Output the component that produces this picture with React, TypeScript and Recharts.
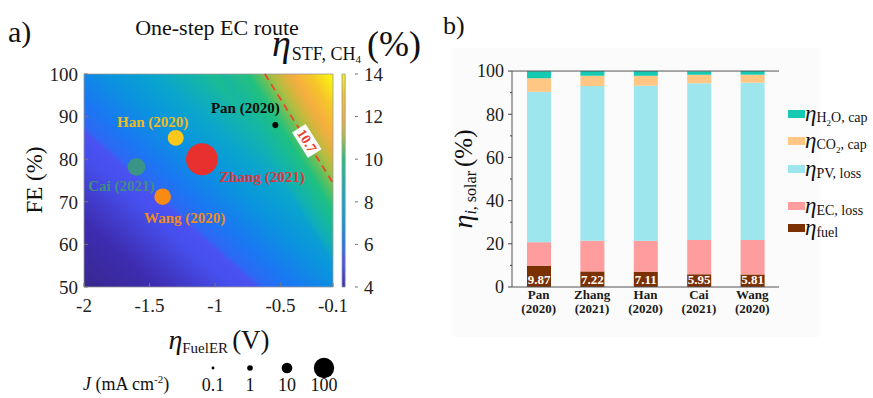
import React from 'react';
import {
  ScatterChart, Scatter, XAxis, YAxis, ReferenceArea, ReferenceLine, ReferenceDot,
  ComposedChart, BarChart, Bar, LabelList, Legend, Cell,
} from 'recharts';

const serif = '"Liberation Serif", "Times New Roman", Times, serif';

// ---- panel a: one-step EC route ----
const studies = ['Pan (2020)', 'Zhang (2021)', 'Han (2020)', 'Cai (2021)', 'Wang (2020)'];
const fuelErOverpotential = [-0.54, -1.1, -1.3, -1.6, -1.4]; // V
const faradaicEfficiency = [88, 80, 85, 78.2, 71.2]; // %
const currentDensity = [1.3, 500, 42, 60, 48]; // mA cm-2
const etaTicks = [-2, -1.5, -1, -0.5, -0.1];
const feTicks = [50, 60, 70, 80, 90, 100];
const stfTicks = [4, 6, 8, 10, 12, 14];
const contourLevel = 10.7;
const contourEnds = [{ x: -0.62, y: 100 }, { x: -0.1, y: 74.4 }];
const contourTagAt = { eta: -0.3, fe: 84.3 };
const jLegendValues = [0.1, 1, 10, 100];

// ---- panel b: solar energy split ----
const sources = ['Pan (2020)', 'Zhang (2021)', 'Han (2020)', 'Cai (2021)', 'Wang (2020)'];
const fuelShare = [9.87, 7.22, 7.11, 5.95, 5.81];
const ecLoss = [10.9, 14.2, 14.3, 15.8, 16.0];
const pvLoss = [69.6, 71.6, 71.8, 72.6, 72.8];
const co2Capture = [6.3, 4.8, 4.6, 3.9, 3.7];
const h2oCapture = [3.3, 2.2, 2.2, 1.7, 1.7];
const shareTicks = [0, 10, 20, 30, 40, 50, 60, 70, 80, 90, 100];

// styles
const pointColors = ['#050505', '#E8302F', '#F9C81B', '#3B9587', '#F98B12'];
const labelColors = ['#0a0a0a', '#E0383A', '#EDBB1E', '#3F8E80', '#F08A22'];
const labelOffsets = [[-30, -17], [60, 18], [-23, -16], [-15, 19], [22, 21]];
// colour map (value -> colour) and where each value sits along the heat-map gradients
const cmapColors = ['#3E2CB0', '#4650EE', '#4A52F2', '#2E68F4', '#1A78F2', '#0A94DE', '#0AA6CC', '#14B4AA',
  '#1EC080', '#5EC05E', '#A8BE44', '#D8B43C', '#F4AE40', '#F6C42A', '#F8F012'];
const cmapLevels = [4, 5, 5.4, 5.6, 6, 7, 8, 9, 10, 10.5, 11, 11.5, 12, 13, 14];
const heatOffsets = [0.151, 0.305, 0.355, 0.37, 0.431, 0.537, 0.629, 0.709, 0.777, 0.808, 0.837, 0.866, 0.893, 0.938, 0.985];
const barColors = { fuel: '#7A3000', ec: '#FF9C9E', pv: '#9EE6EE', co2: '#FFC684', h2o: '#14CAB2' };
const legendOrder = ['h2o', 'co2', 'pv', 'ec', 'fuel'];
const legendRowTops = [14, 41, 69, 106, 128];

const bubbleRadius = (j: number) => 2.8 * Math.pow(j, 0.28);

const points = studies.map((name, i) => ({
  name, eta: fuelErOverpotential[i], fe: faradaicEfficiency[i], J: currentDensity[i],
}));
const jLegend = jLegendValues.map((J) => ({ label: String(J), row: 0, J }));
const bars = sources.map((name, i) => ({
  name, fuel: fuelShare[i], ec: ecLoss[i], pv: pvLoss[i], co2: co2Capture[i], h2o: h2oCapture[i],
}));

const Bubble = (props: any) => {
  const { cx, cy, payload, fill } = props;
  const i = studies.indexOf(payload.name);
  const [dx, dy] = labelOffsets[i];
  return (
    <g>
      <circle cx={cx} cy={cy} r={bubbleRadius(payload.J)} fill={fill} />
      <text x={cx + dx} y={cy + dy} textAnchor="middle" dominantBaseline="central"
        fontFamily={serif} fontWeight="bold" fontSize={15} fill={labelColors[i]}>{payload.name}</text>
    </g>
  );
};

const LegendDot = (props: any) => (
  <circle cx={props.cx} cy={props.cy} r={bubbleRadius(props.payload.J)} fill="#000" />
);

const ContourTag = (props: any) => (
  <g transform={`translate(${props.cx},${props.cy}) rotate(58)`}>
    <rect x={-15} y={-8} width={30} height={16} fill="#fff" />
    <text textAnchor="middle" dominantBaseline="central" fontFamily={serif} fontWeight="bold"
      fontSize={14} fill="#E8402E">{contourLevel}</text>
  </g>
);

const StudyTick = (props: any) => {
  const { x, y, payload } = props;
  const [who, year] = String(payload.value).split(' ');
  return (
    <g>
      <text x={x} y={y + 12} textAnchor="middle" fontFamily={serif} fontWeight="bold" fontSize={13} fill="#1a1a1a">{who}</text>
      <text x={x} y={y + 25.5} textAnchor="middle" fontFamily={serif} fontWeight="bold" fontSize={13} fill="#1a1a1a">{year}</text>
    </g>
  );
};

const ShareTick = (props: any) => {
  const { x, y, payload } = props;
  const major = payload.value % 20 === 0;
  return (
    <g>
      <line x1={x + 8 - (major ? 4 : 2)} x2={x + 8} y1={y} y2={y} stroke="#444" />
      {major && (
        <text x={x} y={y} dy="0.35em" textAnchor="end" fontFamily={serif} fontSize={18} fill="#1a1a1a">
          {payload.value}
        </text>
      )}
    </g>
  );
};

const legendLabel: Record<string, React.ReactNode> = {
  h2o: <>H<sub style={{ fontSize: 9 }}>2</sub>O, cap</>,
  co2: <>CO<sub style={{ fontSize: 9 }}>2</sub>, cap</>,
  pv: <>PV, loss</>,
  ec: <>EC, loss</>,
  fuel: <>fuel</>,
};

const ShareLegend = (props: any) => {
  const items = [...(props.payload || [])].sort(
    (a: any, b: any) => legendOrder.indexOf(a.dataKey) - legendOrder.indexOf(b.dataKey),
  );
  return (
    <div style={{ position: 'relative', width: 90, height: 140, fontFamily: serif, color: '#111' }}>
      {items.map((it: any, i: number) => (
        <div key={it.dataKey} style={{ position: 'absolute', left: 0, top: legendRowTops[i] - 10, height: 20, display: 'flex', alignItems: 'center', whiteSpace: 'nowrap' }}>
          <span style={{ width: 17, height: 8, background: it.color, display: 'inline-block' }} />
          <span style={{ fontStyle: 'italic', fontSize: 23, lineHeight: '20px' }}>η</span>
          <span style={{ fontSize: 14, position: 'relative', top: 5 }}>{legendLabel[it.dataKey]}</span>
        </div>
      ))}
    </div>
  );
};

const abs = (left: number, top: number, extra: React.CSSProperties = {}): React.CSSProperties => ({
  position: 'absolute', left, top, fontFamily: serif, color: '#111', whiteSpace: 'nowrap', lineHeight: 1, ...extra,
});

export default function App() {
  return (
    <div style={{ position: 'absolute', left: 0, top: 0, width: 873, height: 398, background: '#fff', overflow: 'hidden' }}>
      <svg width={0} height={0} style={{ position: 'absolute' }}>
        <defs>
          {/* shallow iso-lines: lower-left part of the map */}
          <linearGradient id="heatBase" x1="0" y1="1" x2="1.025" y2="0.026">
            <stop offset={0} stopColor="#37288F" />
            {heatOffsets.map((o, i) => <stop key={o} offset={o} stopColor={cmapColors[i]} />)}
          </linearGradient>
          {/* steep iso-lines: upper-right part, parallel to the 10.7 contour */}
          <linearGradient id="heatTop" x1="0" y1="1" x2="1.193" y2="0.362">
            <stop offset={0.69} stopColor={cmapColors[7]} stopOpacity={0} />
            {heatOffsets.map((o, i) => (o > 0.7 ? (
              <stop key={o} offset={o} stopColor={cmapColors[i]} stopOpacity={o < 0.76 ? 0.6 : 1} />
            ) : null))}
          </linearGradient>
          <linearGradient id="cbar" x1="0" y1="1" x2="0" y2="0">
            {cmapLevels.map((v, i) => <stop key={v} offset={(v - 4) / 10} stopColor={cmapColors[i]} />)}
          </linearGradient>
        </defs>
      </svg>

      {/* panel b background */}
      <div style={{ position: 'absolute', left: 453, top: 48, width: 367, height: 289, background: '#fbfbfb' }} />

      {/* ---------- panel a ---------- */}
      <div style={abs(8, 17, { fontSize: 30 })}>a)</div>
      <div style={abs(0, 17, { width: 434, textAlign: 'center', fontSize: 22 })}>One-step EC route</div>
      <div style={abs(272, 24, { display: 'flex', alignItems: 'baseline' })}>
        <span style={{ fontStyle: 'italic', fontSize: 38 }}>η</span>
        <span style={{ fontSize: 18, position: 'relative', top: 4, marginLeft: 1 }}>STF, CH<span style={{ fontSize: 11, position: 'relative', top: 3 }}>4</span></span>
        <span style={{ fontSize: 36, marginLeft: 6 }}>(%)</span>
      </div>
      <div style={abs(34, 180, { fontSize: 23, transform: 'translate(-50%, -50%) rotate(-90deg)' })}>FE (%)</div>
      <div style={abs(219, 340, { transform: 'translate(-50%, -50%)', display: 'flex', alignItems: 'baseline' })}>
        <span style={{ fontStyle: 'italic', fontSize: 28 }}>η</span>
        <span style={{ fontSize: 15, position: 'relative', top: 4 }}>FuelER</span>
        <span style={{ fontSize: 27, marginLeft: 4 }}>(V)</span>
      </div>
      <div style={abs(83, 375, { fontSize: 18 })}>
        <i>J</i> (mA cm<span style={{ fontSize: 11, position: 'relative', top: -7 }}>-2</span>)
      </div>

      <div style={{ position: 'absolute', left: 0, top: 0 }}>
        <ScatterChart width={440} height={330} margin={{ top: 74, right: 107, bottom: 18, left: 44 }}>
          <XAxis type="number" dataKey="eta" domain={[-2, -0.1]} ticks={etaTicks} allowDataOverflow
            height={25} tickSize={-4} tickMargin={16} axisLine={false} stroke="#777"
            tick={{ fontFamily: serif, fontSize: 19, fill: '#222' }} />
          <XAxis xAxisId="top" orientation="top" type="number" domain={[-2, -0.1]} ticks={etaTicks}
            allowDataOverflow height={0} tickSize={-4} tick={false} axisLine={false} stroke="#777" />
          <YAxis type="number" dataKey="fe" domain={[50, 100]} ticks={feTicks} allowDataOverflow
            width={40} tickSize={-4} tickMargin={10} axisLine={false} stroke="#777"
            tick={{ fontFamily: serif, fontSize: 19, fill: '#222' }} />
          <YAxis yAxisId="right" orientation="right" type="number" domain={[50, 100]} ticks={feTicks}
            allowDataOverflow width={0} tickSize={-4} tick={false} axisLine={false} stroke="#777" />
          <ReferenceArea x1={-2} x2={-0.1} y1={50} y2={100} fill="url(#heatBase)" fillOpacity={1} stroke="none" />
          <ReferenceArea x1={-2} x2={-0.1} y1={50} y2={100} fill="url(#heatTop)" fillOpacity={1} stroke="#9a9a9a" strokeWidth={0.8} />
          <ReferenceLine segment={contourEnds} stroke="#EE4428" strokeWidth={1.8} strokeDasharray="7 5" />
          <ReferenceDot x={contourTagAt.eta} y={contourTagAt.fe} shape={ContourTag} />
          <Scatter data={points} shape={Bubble} isAnimationActive={false}>
            {points.map((p, i) => <Cell key={p.name} fill={pointColors[i]} />)}
          </Scatter>
        </ScatterChart>
      </div>

      {/* colour bar */}
      <div style={{ position: 'absolute', left: 330, top: 0 }}>
        <ComposedChart width={70} height={330} data={stfTicks.map((v) => ({ level: v }))}
          margin={{ top: 74, right: 12, bottom: 43, left: 12 }}>
          <XAxis type="number" domain={[0, 1]} hide />
          <YAxis orientation="right" type="number" dataKey="level" domain={[4, 14]} ticks={stfTicks}
            width={30} tickSize={-3} tickMargin={9} axisLine={false} stroke="#777"
            tick={{ fontFamily: serif, fontSize: 19, fill: '#222', textAnchor: 'start' }} />
          <ReferenceArea x1={0} x2={1} y1={4} y2={14} fill="url(#cbar)" fillOpacity={1} stroke="#9a9a9a" strokeWidth={0.8} />
        </ComposedChart>
      </div>

      {/* current density key */}
      <div style={{ position: 'absolute', left: 190, top: 345 }}>
        <ScatterChart width={160} height={53} margin={{ top: 13, right: 7.5, bottom: 0, left: 4.5 }}>
          <XAxis type="category" dataKey="label" allowDuplicatedCategory={false} height={20}
            tickLine={false} axisLine={false} tickSize={0} tickMargin={0}
            tick={{ fontFamily: serif, fontSize: 18, fill: '#111' }} />
          <YAxis type="number" dataKey="row" domain={[-1, 1]} hide />
          <Scatter data={jLegend} shape={LegendDot} isAnimationActive={false} />
        </ScatterChart>
      </div>

      {/* ---------- panel b ---------- */}
      <div style={abs(443, 13, { fontSize: 26 })}>b)</div>
      <div style={abs(463, 179, { transform: 'translate(-50%, -50%) rotate(-90deg)', display: 'flex', alignItems: 'baseline' })}>
        <span style={{ fontStyle: 'italic', fontSize: 28 }}>η</span>
        <span style={{ fontSize: 16, position: 'relative', top: 4 }}><i>i</i>, solar</span>
        <span style={{ fontSize: 25, marginLeft: 4 }}>(%)</span>
      </div>

      <div style={{ position: 'absolute', left: 440, top: 0 }}>
        <BarChart width={360} height={340} data={bars} barSize={24}
          margin={{ top: 71, right: 21, bottom: 13, left: 32 }}>
          <XAxis dataKey="name" height={40} tickLine={false} tickSize={0} tickMargin={0}
            axisLine={{ stroke: '#555' }} tick={<StudyTick />} interval={0} />
          <YAxis type="number" domain={[0, 100]} ticks={shareTicks} width={40} tickLine={false}
            tickSize={0} tickMargin={8} axisLine={{ stroke: '#555' }} tick={<ShareTick />} interval={0} />
          <YAxis yAxisId="frame" orientation="right" width={0} tick={false} tickLine={false}
            axisLine={{ stroke: '#555' }} />
          <ReferenceLine y={100} stroke="#555" />
          <Bar dataKey="fuel" name="fuel" stackId="s" fill={barColors.fuel} isAnimationActive={false}>
            <LabelList dataKey="fuel" position="insideBottom" offset={3} fill="#fff"
              fontFamily={serif} fontWeight="bold" fontSize={13} formatter={(v: any) => Number(v).toFixed(2)} />
          </Bar>
          <Bar dataKey="ec" name="EC, loss" stackId="s" fill={barColors.ec} isAnimationActive={false} />
          <Bar dataKey="pv" name="PV, loss" stackId="s" fill={barColors.pv} isAnimationActive={false} />
          <Bar dataKey="co2" name="CO2, cap" stackId="s" fill={barColors.co2} isAnimationActive={false} />
          <Bar dataKey="h2o" name="H2O, cap" stackId="s" fill={barColors.h2o} isAnimationActive={false} />
          <Legend layout="horizontal" verticalAlign="middle" align="center" content={<ShareLegend />}
            wrapperStyle={{ left: 348, top: 100, width: 90 }} />
        </BarChart>
      </div>
    </div>
  );
}
